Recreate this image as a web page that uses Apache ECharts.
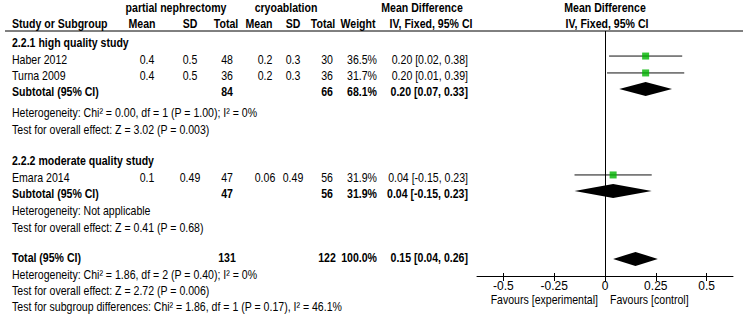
<!DOCTYPE html>
<html><head><meta charset="utf-8">
<script src="https://cdn.jsdelivr.net/npm/echarts@6/dist/echarts.min.js"></script>
<style>html,body{margin:0;padding:0;background:#fff}#c{width:746px;height:325px}</style>
</head><body><div id="c"></div>
<script>
// ---- data ----
const studies = ['Haber 2012', 'Turna 2009', 'Emara 2014'];
const studyGroup = [0, 0, 1];
const pnMean = [0.4, 0.4, 0.1];
const pnSD = [0.5, 0.5, 0.49];
const pnTotal = [48, 36, 47];
const crMean = [0.2, 0.2, 0.06];
const crSD = [0.3, 0.3, 0.49];
const crTotal = [30, 36, 56];
const weight = [36.5, 31.7, 31.9];
const md = [0.20, 0.20, 0.04];
const mdLo = [0.02, 0.01, -0.15];
const mdHi = [0.38, 0.39, 0.23];

const groups = ['2.2.1 high quality study', '2.2.2 moderate quality study'];
const subPnTotal = [84, 47];
const subCrTotal = [66, 56];
const subWeight = [68.1, 31.9];
const subMd = [0.20, 0.04];
const subLo = [0.07, -0.15];
const subHi = [0.33, 0.23];
const subHet = ['Heterogeneity: Chi\u00b2 = 0.00, df = 1 (P = 1.00); I\u00b2 = 0%', 'Heterogeneity: Not applicable'];
const subTest = ['Test for overall effect: Z = 3.02 (P = 0.003)', 'Test for overall effect: Z = 0.41 (P = 0.68)'];

const totPn = 131, totCr = 122, totWeight = 100.0, totMd = 0.15, totLo = 0.04, totHi = 0.26;
const totNotes = ['Heterogeneity: Chi\u00b2 = 1.86, df = 2 (P = 0.40); I\u00b2 = 0%',
  'Test for overall effect: Z = 2.72 (P = 0.006)',
  'Test for subgroup differences: Chi\u00b2 = 1.86, df = 1 (P = 0.17), I\u00b2 = 46.1%'];

const xTicks = [-0.5, -0.25, 0, 0.25, 0.5];
const xTickLabels = ['-0.5', '-0.25', '0', '0.25', '0.5'];
const favLeft = 'Favours [experimental]';
const favRight = 'Favours [control]';

// ---- layout (rows in text-line units) ----
const LINE = 16.4, Y0 = 8;
const ROW = {
  h1: 0, h2: 0.98,
  g: [2.13, 9.33],
  study: [3.17, 4.15, 10.37],
  sub: [5.12, 11.34],
  het: [6.40, 12.38],
  test: [7.44, 13.41],
  total: 15.24,
  notes: [16.28, 17.26, 18.23]
};
const PROW = { study: [2.93, 3.96, 10.18], sub: [4.94, 11.16], total: 15.30 };
const COL = { study: 12, pnMean: 147, pnSD: 190, pnTot: 227, crMean: 265, crSD: 293, crTot: 327, weight: 377, ci: 468 };
const FONT = '"Liberation Sans", Arial, sans-serif';
const FS = 12;
const NARROW = 0.88;

const texts = [];
function T(x, row, t, a, b) { texts.push({ x, row, t, a: a || 'left', b: !!b }); }
const ci = (m, l, h) => m.toFixed(2) + ' [' + l.toFixed(2) + ', ' + h.toFixed(2) + ']';
const pct = v => v.toFixed(1) + '%';

// headers
T(176, ROW.h1, 'partial nephrectomy', 'center', true);
T(286, ROW.h1, 'cryoablation', 'center', true);
T(422, ROW.h1, 'Mean Difference', 'center', true);
T(605, ROW.h1, 'Mean Difference', 'center', true);
T(COL.study, ROW.h2, 'Study or Subgroup', 'left', true);
T(142, ROW.h2, 'Mean', 'center', true);
T(190, ROW.h2, 'SD', 'center', true);
T(226, ROW.h2, 'Total', 'center', true);
T(259, ROW.h2, 'Mean', 'center', true);
T(293, ROW.h2, 'SD', 'center', true);
T(323, ROW.h2, 'Total', 'center', true);
T(358, ROW.h2, 'Weight', 'center', true);
T(431, ROW.h2, 'IV, Fixed, 95% CI', 'center', true);
T(607, ROW.h2, 'IV, Fixed, 95% CI', 'center', true);

groups.forEach((g, gi) => {
  T(COL.study, ROW.g[gi], g, 'left', true);
  studies.forEach((s, i) => {
    if (studyGroup[i] !== gi) return;
    const r = ROW.study[i];
    T(COL.study, r, s);
    T(COL.pnMean, r, String(pnMean[i]), 'center');
    T(COL.pnSD, r, String(pnSD[i]), 'center');
    T(COL.pnTot, r, String(pnTotal[i]), 'center');
    T(COL.crMean, r, String(crMean[i]), 'center');
    T(COL.crSD, r, String(crSD[i]), 'center');
    T(COL.crTot, r, String(crTotal[i]), 'center');
    T(COL.weight, r, pct(weight[i]), 'right');
    T(COL.ci, r, ci(md[i], mdLo[i], mdHi[i]), 'right');
  });
  const r = ROW.sub[gi];
  T(COL.study, r, 'Subtotal (95% CI)', 'left', true);
  T(COL.pnTot, r, String(subPnTotal[gi]), 'center', true);
  T(COL.crTot, r, String(subCrTotal[gi]), 'center', true);
  T(COL.weight, r, pct(subWeight[gi]), 'right', true);
  T(COL.ci, r, ci(subMd[gi], subLo[gi], subHi[gi]), 'right', true);
  T(COL.study, ROW.het[gi], subHet[gi]);
  T(COL.study, ROW.test[gi], subTest[gi]);
});
T(COL.study, ROW.total, 'Total (95% CI)', 'left', true);
T(COL.pnTot, ROW.total, String(totPn), 'center', true);
T(COL.crTot, ROW.total, String(totCr), 'center', true);
T(COL.weight, ROW.total, pct(totWeight), 'right', true);
T(COL.ci, ROW.total, ci(totMd, totLo, totHi), 'right', true);
totNotes.forEach((n, i) => T(COL.study, ROW.notes[i], n));

const chart = echarts.init(document.getElementById('c'), null, { renderer: 'svg' });
const PLOT_TOP = 31, PLOT_BOTTOM_PX = 276, H = 325;
const yr = (a, b) => ({ min: (a - Y0) / LINE, max: (b - Y0) / LINE });
const y0r = yr(0, H), y1r = yr(PLOT_TOP, PLOT_BOTTOM_PX);
const XMIN = -0.63, XMAX = 0.63;

const ciData = studies.map((s, i) => [mdLo[i], mdHi[i], PROW.study[i]]);
const sqData = studies.map((s, i) => [md[i], PROW.study[i]]);
const diaData = subMd.map((m, i) => [subLo[i], m, subHi[i], PROW.sub[i]]).concat([[totLo, totMd, totHi, PROW.total]]);

function txt(x, y, t, align, bold) {
  return { type: 'text', x: x, y: y, scaleX: NARROW, silent: true,
    style: { text: t, fill: '#000', font: (bold ? 'bold ' : '') + FS + 'px ' + FONT,
      align: align, verticalAlign: 'middle', textAlign: align, textVerticalAlign: 'middle' } };
}

chart.setOption({
  animation: false,
  grid: [
    { left: 0, right: 0, top: 0, bottom: 0 },
    { left: 477, right: 13, top: PLOT_TOP, bottom: H - PLOT_BOTTOM_PX }
  ],
  xAxis: [
    { gridIndex: 0, type: 'value', min: 0, max: 746, show: false },
    { gridIndex: 1, type: 'value', min: XMIN, max: XMAX, position: 'bottom',
      axisLine: { show: true, lineStyle: { color: '#000', width: 1 } },
      axisTick: { show: true, customValues: xTicks, length: 5, lineStyle: { color: '#000' } },
      axisLabel: { show: true, customValues: xTicks, margin: 4, color: '#000', fontSize: FS, fontFamily: FONT,
        formatter: v => { const k = xTicks.findIndex(t => Math.abs(t - v) < 1e-9); return k >= 0 ? xTickLabels[k] : ''; } },
      splitLine: { show: false } },
    { gridIndex: 1, type: 'value', min: XMIN, max: XMAX, position: 'bottom',
      axisLine: { show: false },
      axisTick: { show: true, inside: true, customValues: xTicks, length: 3, lineStyle: { color: '#000' } },
      axisLabel: { show: false }, splitLine: { show: false } }
  ],
  yAxis: [
    { gridIndex: 0, type: 'value', inverse: true, min: y0r.min, max: y0r.max, show: false },
    { gridIndex: 1, type: 'value', inverse: true, min: y1r.min, max: y1r.max, show: false }
  ],
  graphic: [
    { type: 'line', shape: { x1: 5, y1: PLOT_TOP, x2: 743, y2: PLOT_TOP }, style: { stroke: '#000', lineWidth: 1 }, silent: true }
  ],
  series: [
    { type: 'custom', xAxisIndex: 0, yAxisIndex: 0, silent: true,
      data: texts.map(t => [t.x, t.row]),
      renderItem: (params, api) => {
        const t = texts[params.dataIndex];
        const p = api.coord([t.x, t.row]);
        return txt(p[0], p[1], t.t, t.a, t.b);
      } },
    { type: 'custom', xAxisIndex: 1, yAxisIndex: 1, silent: true,
      data: ciData, encode: { x: [0, 1], y: 2 },
      renderItem: (params, api) => {
        const a = api.coord([api.value(0), api.value(2)]);
        const b = api.coord([api.value(1), api.value(2)]);
        return { type: 'line', shape: { x1: a[0], y1: a[1], x2: b[0], y2: b[1] }, style: { stroke: '#111', lineWidth: 1 } };
      } },
    { type: 'scatter', xAxisIndex: 1, yAxisIndex: 1, silent: true,
      data: sqData, symbol: 'rect', symbolSize: 7, itemStyle: { color: '#00b400' },
      markLine: { silent: true, symbol: 'none', label: { show: false },
        lineStyle: { color: '#000', type: 'solid', width: 1 }, data: [{ xAxis: 0 }] } },
    { type: 'custom', xAxisIndex: 1, yAxisIndex: 1, silent: true,
      data: diaData, encode: { x: [0, 1, 2], y: 3 },
      renderItem: (params, api) => {
        const r = api.value(3);
        const l = api.coord([api.value(0), r]);
        const m = api.coord([api.value(1), r]);
        const h = api.coord([api.value(2), r]);
        const hh = 7;
        return { type: 'polygon', shape: { points: [[l[0], l[1]], [m[0], m[1] - hh], [h[0], h[1]], [m[0], m[1] + hh]] },
          style: { fill: '#000' } };
      } },
    { type: 'custom', xAxisIndex: 1, yAxisIndex: 1, silent: true,
      data: [[0, 0]],
      renderItem: (params, api) => {
        const p = api.coord([0, y1r.max]);
        const y = p[1] + 24;
        return { type: 'group', children: [
          txt(p[0] - 7, y, favLeft, 'right', false),
          txt(p[0] + 5, y, favRight, 'left', false)
        ] };
      } }
  ]
});
</script>
</body></html>
